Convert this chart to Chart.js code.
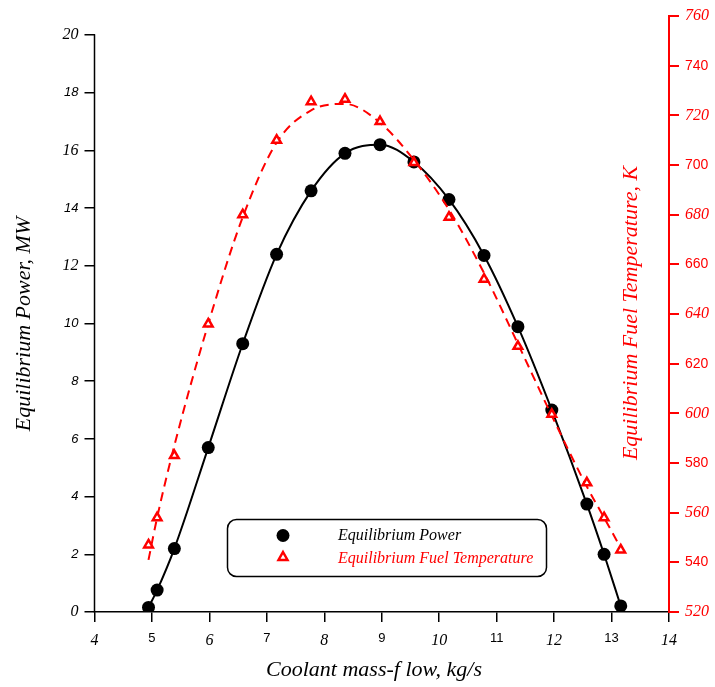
<!DOCTYPE html>
<html>
<head>
<meta charset="utf-8">
<script src="https://cdn.jsdelivr.net/npm/chart.js@4.4.0/dist/chart.umd.min.js"></script>
<style>
  html, body { margin: 0; padding: 0; background: #fff; }
  #wrap { width: 715px; height: 687px; }
</style>
</head>
<body>
<div id="wrap"><canvas id="chart"></canvas></div>
<script>
// values
const flowPoints = [4.94, 5.09, 5.39, 5.98, 6.58, 7.17, 7.77, 8.36, 8.97, 9.56, 10.17, 10.78, 11.37, 11.96, 12.57, 12.87, 13.16];
const powerValues = [0.16, 0.76, 2.2, 5.7, 9.3, 12.4, 14.6, 15.9, 16.2, 15.6, 14.3, 12.36, 9.89, 7.0, 3.74, 2.0, 0.21];
const fuelTempValues = [547, 558, 583, 636, 680, 710, 725.5, 726.5, 717.5, 701, 679, 654, 627, 599.6, 572, 558, 545];
// the dashed fit curve does not go exactly through the triangles
const fuelFitValues = [541, 558, 587, 636, 679, 709, 722, 724.6, 717, 702, 682, 656.5, 628, 599, 570.5, 558, 545.8];

const flowTicks = [4, 5, 6, 7, 8, 9, 10, 11, 12, 13, 14];
const powerTicks = [0, 2, 4, 6, 8, 10, 12, 14, 16, 18, 20];
const tempTicks = [520, 540, 560, 580, 600, 620, 640, 660, 680, 700, 720, 740, 760];

const RED = '#ff0000';
const serifItalic = (size) => ({ family: 'Liberation Serif', style: 'italic', size: size });
const sans = (size) => ({ family: 'Liberation Sans', size: size });
const sansItalic = (size) => ({ family: 'Liberation Sans', style: 'italic', size: size });

const pts = (ys) => flowPoints.map((x, i) => ({ x: x, y: ys[i] }));

// axis lines, titles and the boxed legend
const decorPlugin = {
  id: 'decor',
  afterDraw(chart) {
    const ctx = chart.ctx;
    const ca = chart.chartArea;
    const yP = chart.scales.yP;
    ctx.save();

    // left axis line only runs 0..20
    ctx.strokeStyle = '#000';
    ctx.lineWidth = 1.5;
    ctx.beginPath();
    ctx.moveTo(ca.left, yP.getPixelForValue(0) + 0.75);
    ctx.lineTo(ca.left, yP.getPixelForValue(20) - 0.75);
    ctx.stroke();

    // x title
    ctx.fillStyle = '#000';
    ctx.font = 'italic 22px "Liberation Serif"';
    ctx.textAlign = 'center';
    ctx.textBaseline = 'alphabetic';
    ctx.fillText('Coolant mass-f low, kg/s', 374, 676);

    // left title
    ctx.save();
    ctx.translate(30, 324);
    ctx.rotate(-Math.PI / 2);
    ctx.fillText('Equilibrium Power, MW', 0, 0);
    ctx.restore();

    // right title (sits inside the plot)
    ctx.save();
    ctx.fillStyle = RED;
    ctx.translate(637, 313);
    ctx.rotate(-Math.PI / 2);
    ctx.fillText('Equilibrium Fuel Temperature, K', 0, 0);
    ctx.restore();

    // legend box
    const bx = 227.5, by = 519.5, bw = 319, bh = 57, r = 9;
    ctx.fillStyle = '#fff';
    ctx.strokeStyle = '#000';
    ctx.lineWidth = 1.5;
    ctx.beginPath();
    ctx.roundRect(bx, by, bw, bh, r);
    ctx.fill();
    ctx.stroke();

    ctx.fillStyle = '#000';
    ctx.beginPath();
    ctx.arc(283, 535.5, 6.5, 0, Math.PI * 2);
    ctx.fill();

    ctx.strokeStyle = RED;
    ctx.lineWidth = 2.5;
    ctx.beginPath();
    ctx.moveTo(283, 552);
    ctx.lineTo(287.5, 560);
    ctx.lineTo(278.5, 560);
    ctx.closePath();
    ctx.stroke();

    ctx.font = 'italic 16px "Liberation Serif"';
    ctx.textAlign = 'left';
    ctx.fillStyle = '#000';
    ctx.fillText('Equilibrium Power', 338, 540);
    ctx.fillStyle = RED;
    ctx.fillText('Equilibrium Fuel Temperature', 338, 563);

    ctx.restore();
  }
};

new Chart(document.getElementById('chart'), {
  type: 'scatter',
  data: {
    datasets: [
      {
        label: 'Equilibrium Fuel Temperature',
        data: pts(fuelTempValues),
        yAxisID: 'yT',
        showLine: false,
        pointStyle: 'triangle',
        pointRadius: 5,
        pointBorderWidth: 2.5,
        pointBorderColor: RED,
        pointBackgroundColor: '#fff',
        order: 0
      },
      {
        label: 'fit',
        data: pts(fuelFitValues),
        yAxisID: 'yT',
        showLine: true,
        borderColor: RED,
        borderWidth: 2,
        borderDash: [9, 6],
        cubicInterpolationMode: 'monotone',
        pointRadius: 0,
        order: 1
      },
      {
        label: 'Equilibrium Power',
        data: pts(powerValues),
        yAxisID: 'yP',
        showLine: true,
        borderColor: '#000',
        borderWidth: 2,
        cubicInterpolationMode: 'monotone',
        pointStyle: 'circle',
        pointRadius: 6.5,
        pointBorderWidth: 0,
        pointBackgroundColor: '#000',
        order: 2
      }
    ]
  },
  options: {
    responsive: true,
    maintainAspectRatio: false,
    animation: false,
    layout: { padding: { top: 16, left: 0, right: 0, bottom: 0 } },
    plugins: {
      legend: { display: false },
      tooltip: { enabled: false }
    },
    scales: {
      x: {
        type: 'linear',
        position: 'bottom',
        min: 4,
        max: 14,
        afterBuildTicks: (s) => { s.ticks = flowTicks.map(v => ({ value: v })); },
        afterFit: (s) => { s.height = 75; },
        grid: { drawOnChartArea: false, color: '#000', lineWidth: 1.5, tickLength: 10 },
        border: { color: '#000', width: 1.5 },
        ticks: {
          color: '#000',
          padding: 9,
          maxRotation: 0,
          font: (c) => (c.tick && c.tick.value % 2 === 0) ? serifItalic(16) : sans(13)
        }
      },
      yP: {
        type: 'linear',
        position: 'left',
        min: 0,
        max: 20.66,
        afterBuildTicks: (s) => { s.ticks = powerTicks.map(v => ({ value: v })); },
        afterFit: (s) => { s.width = 94.5; },
        grid: { drawOnChartArea: false, color: '#000', lineWidth: 1.5, tickLength: 10 },
        border: { display: false },
        ticks: {
          color: '#000',
          padding: 6,
          font: (c) => (c.tick && [0, 12, 16, 20].includes(c.tick.value)) ? serifItalic(16) : sansItalic(13)
        }
      },
      yT: {
        type: 'linear',
        position: 'right',
        min: 520,
        max: 760,
        afterBuildTicks: (s) => { s.ticks = tempTicks.map(v => ({ value: v })); },
        afterFit: (s) => { s.width = 46; },
        grid: { drawOnChartArea: false, color: RED, lineWidth: 2, tickLength: 10 },
        border: { color: RED, width: 2 },
        ticks: {
          color: RED,
          padding: 6,
          font: (c) => (c.tick && ((c.tick.value - 520) / 20) % 2 === 0) ? serifItalic(16) : sans(14)
        }
      }
    }
  },
  plugins: [decorPlugin]
});
</script>
</body>
</html>
